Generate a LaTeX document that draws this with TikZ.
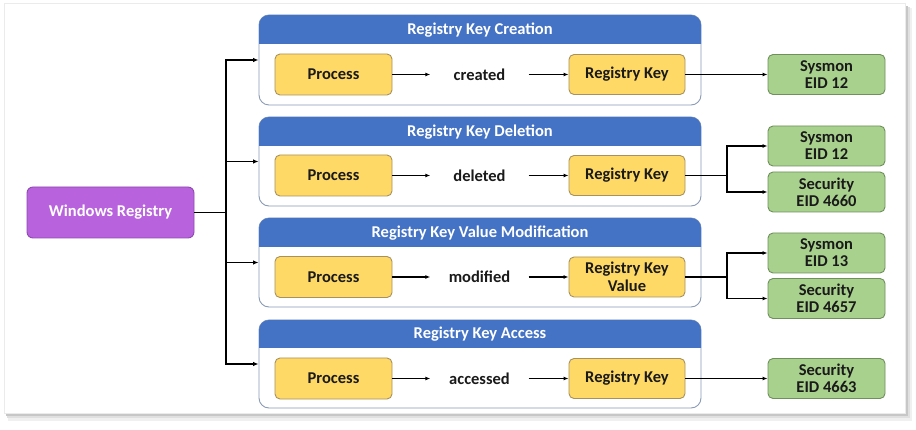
\documentclass[tikz,border=0pt]{standalone}
\usepackage{fontspec}
\setmainfont{Carlito}
\usetikzlibrary{arrows.meta}
\definecolor{hdrblue}{HTML}{4472C4}
\definecolor{panelborder}{HTML}{8A9BB5}
\definecolor{yelfill}{HTML}{FFD966}
\definecolor{yeldraw}{HTML}{A89160}
\definecolor{grnfill}{HTML}{A9D18E}
\definecolor{grndraw}{HTML}{6F8F5C}
\definecolor{purfill}{HTML}{B862DE}
\definecolor{purdraw}{HTML}{8E4AB0}
\definecolor{txt}{HTML}{1A1A1A}
\tikzset{
  every node/.style={font=\fontsize{16.5}{17}\selectfont\bfseries, text=txt},
  panel/.style={draw=panelborder, line width=0.9pt, fill=white, rounded corners=10pt, minimum width=442pt, inner sep=0pt},
  hdrtext/.style={text=white, inner sep=0pt},
  ybox/.style={draw=yeldraw, line width=0.9pt, fill=yelfill, rounded corners=5pt, minimum width=116pt, minimum height=40pt, inner sep=0pt, align=center},
  gbox/.style={draw=grndraw, line width=0.9pt, fill=grnfill, rounded corners=5pt, minimum width=117pt, minimum height=40pt, inner sep=0pt, align=center, font=\fontsize{16.5}{17}\selectfont\bfseries},
  verb/.style={minimum width=98pt, inner sep=0pt},
  conn/.style={draw=black, line width=1.1pt, -{Latex[length=5pt,width=4pt]}},
  plain/.style={draw=black, line width=1.1pt},
  trunk/.style={draw=black, line width=1.5pt},
  trunkarrow/.style={draw=black, line width=1.5pt, -{Latex[length=5.5pt,width=4.5pt]}}
}
\begin{document}
\begin{tikzpicture}[x=1pt,y=-1pt]
\useasboundingbox (0,0) rectangle (916,430);
\fill[white] (0,0) rectangle (916,430);
% card with shadow
\fill[black!6] (8,8) rectangle (912,421);
\fill[black!12] (7,7) rectangle (910,418);
\fill[black!22] (6,6) rectangle (908,416);
\fill[white] (4,3) rectangle (905,413);
\draw[black!8, line width=0.4pt] (4,3) rectangle (905,413);

% Windows Registry
\node[draw=purdraw, line width=0.9pt, fill=purfill, rounded corners=6pt, minimum width=167pt, minimum height=51pt, inner sep=0pt, text=white] (wr) at (110.5,212.5) {Windows Registry};
\coordinate (tr) at (226,212.5);

% panels: body + header
\foreach \n/\yt/\yh/\yb/\ttl in {1/15/44/105/Registry Key Creation,2/117/146/206/Registry Key Deletion,3/218/247/307/Registry Key Value Modification,4/320/348/408/Registry Key Access}{
  \node[panel, minimum height={\yb-\yt}] (panel\n) at (480,{(\yt+\yb)/2}) {};
  \fill[hdrblue] (259,\yh) [rounded corners=10pt] -- (259,\yt) -- (701,\yt) [sharp corners] -- (701,\yh) -- cycle;
  \node[hdrtext] (hdr\n) at (480,{(\yt+\yh)/2+0.5}) {\ttl};
}

% panel contents
\node[ybox, minimum width=117pt, minimum height=41pt] (proc1) at (333.5,74.5) {Process};
\node[verb] (verb1) at (479.5,74.5) {created};
\node[ybox] (rk1) at (627,74.5) {Registry Key};

\node[ybox, minimum width=117pt, minimum height=41pt] (proc2) at (333.5,175.5) {Process};
\node[verb] (verb2) at (479.5,175.5) {deleted};
\node[ybox] (rk2) at (627,175.5) {Registry Key};

\node[ybox, minimum width=117pt, minimum height=41pt] (proc3) at (333.5,277) {Process};
\node[verb] (verb3) at (479.5,277) {modified};
\node[ybox, font=\fontsize{16.5}{18}\selectfont\bfseries] (rk3) at (627,277) {Registry Key\\Value};

\node[ybox, minimum width=117pt, minimum height=41pt] (proc4) at (333.5,378.5) {Process};
\node[verb] (verb4) at (479.5,378.5) {accessed};
\node[ybox] (rk4) at (627,378.5) {Registry Key};

% event nodes
\node[gbox] (g1) at (826.5,74.5) {Sysmon\\EID 12};
\node[gbox] (g2a) at (826.5,146) {Sysmon\\EID 12};
\node[gbox] (g2b) at (826.5,192) {Security\\EID 4660};
\node[gbox] (g3a) at (826.5,253) {Sysmon\\EID 13};
\node[gbox] (g3b) at (826.5,298.5) {Security\\EID 4657};
\node[gbox] (g4) at (826.5,378.5) {Security\\EID 4663};

% trunk from Windows Registry
\draw[trunk] (wr.east) -- (tr);
\draw[trunkarrow] (tr) |- (panel1.west);
\draw[trunkarrow] (tr) |- (panel2.west);
\draw[trunkarrow] (tr) |- (panel3.west);
\draw[trunkarrow] (tr) |- (panel4.west);

% inside arrows
\foreach \i in {1,2,3,4}{
  \draw[conn] (proc\i) -- (verb\i.west);
  \draw[conn] (verb\i.east) -- (rk\i);
}

% outputs
\coordinate (b2) at (727,175.5);
\coordinate (b3) at (727,277);
\draw[conn] (rk1) -- (g1);
\draw[plain] (rk2.east) -- (b2);
\draw[conn] (b2) |- (g2a.west);
\draw[conn] (b2) |- (g2b.west);
\draw[plain] (rk3.east) -- (b3);
\draw[conn] (b3) |- (g3a.west);
\draw[conn] (b3) |- (g3b.west);
\draw[conn] (rk4) -- (g4);
\end{tikzpicture}
\end{document}
